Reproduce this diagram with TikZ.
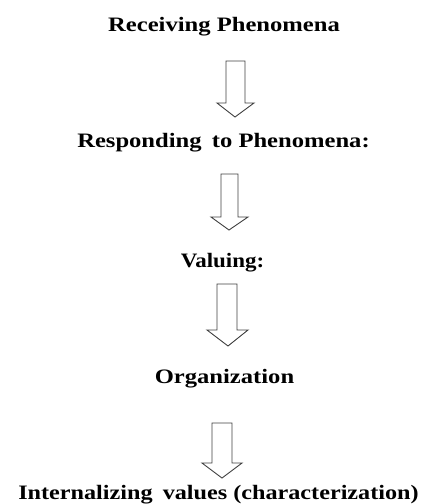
\documentclass[tikz,border=0pt]{standalone}
\usepackage{fontspec}
\setmainfont{Liberation Serif}
\begin{document}
\begin{tikzpicture}[x=1pt,y=-1pt,
  lbl/.style={anchor=base,inner sep=0pt,font=\bfseries\fontsize{20.5}{24}\selectfont},
  blk/.style={draw=black!75,line width=0.9pt,fill=white,line join=miter}]
\useasboundingbox (0,0) rectangle (426,504);
\node[lbl] (t1) at (224,31.7) {\scalebox{1.2}[1]{Receiving Phenomena}};
\node[lbl] (t2) at (223.5,147) {\scalebox{1.2}[1]{Responding\, to Phenomena:}};
\node[lbl] (t3) at (222.5,267) {\scalebox{1.12}[1]{Valuing:}};
\node[lbl] (t4) at (224.5,383) {\scalebox{1.2}[1]{Organization}};
\node[lbl] (t5) at (218.5,499) {\scalebox{1.18}[1]{Internalizing\, values (characterization)}};
% block arrows
\draw[blk] (226,61) -- (245,61) -- (245,103) -- (254,103) -- (235,117) -- (217,103) -- (226,103) -- cycle;
\draw[blk] (221,174) -- (238,174) -- (238,217) -- (248,217) -- (229,230) -- (211,217) -- (221,217) -- cycle;
\draw[blk] (217,284) -- (237,284) -- (237,330) -- (248,330) -- (228,346) -- (207,330) -- (217,330) -- cycle;
\draw[blk] (212,423) -- (232,423) -- (232,463) -- (242,463) -- (222,478) -- (202,463) -- (212,463) -- cycle;
\end{tikzpicture}
\end{document}
